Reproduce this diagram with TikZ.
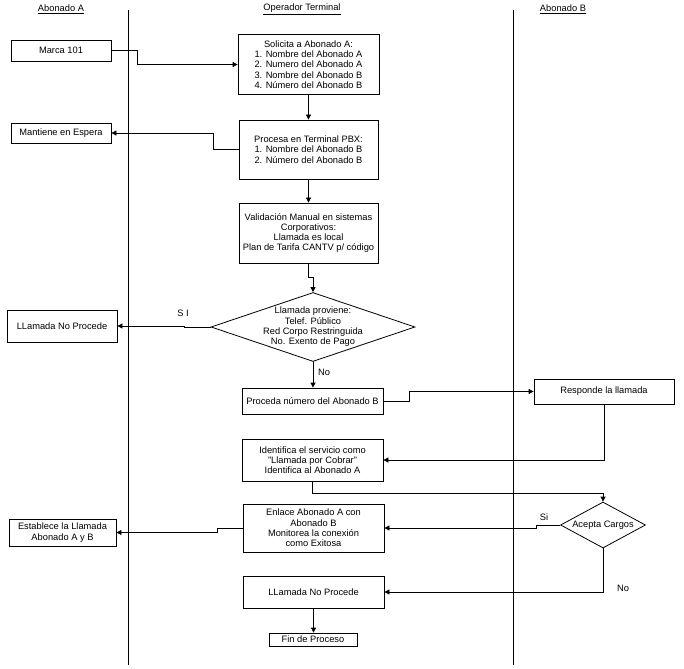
\documentclass[tikz,border=0pt]{standalone}
\usepackage{fontspec}
\setmainfont{Liberation Sans}
\usetikzlibrary{shapes.geometric,arrows.meta}
\begin{document}
\begin{tikzpicture}[x=1pt,y=-1pt,
  every node/.style={font=\fontsize{9.3}{10.3}\selectfont},
  box/.style={draw, line width=0.8pt, align=center, inner sep=0pt},
  dia/.style={draw, diamond, line width=0.8pt, inner sep=0pt},
  arr/.style={line width=0.8pt, -{Triangle[length=5pt,width=5pt]}},
  lane/.style={line width=0.8pt},
  lbl/.style={inner sep=0pt}]
\useasboundingbox (0,0) rectangle (684,668);
% lanes
\coordinate (l1t) at (128,10); \coordinate (l1b) at (128,665);
\coordinate (l2t) at (513,10); \coordinate (l2b) at (513,665);
\draw[lane] (l1t) -- (l1b);
\draw[lane] (l2t) -- (l2b);
% headers
\node[lbl] (hA) at (61,9) {\underline{Abonado A}};
\node[lbl] (hO) at (302,9) {\underline{Operador Terminal}};
\node[lbl] (hB) at (563,9) {\underline{Abonado B}};
% boxes
\node[box, minimum width=100pt, minimum height=21pt] (marca) at (61,50.5) {Marca 101};
\node[box, minimum width=141pt, minimum height=60pt] (sol) at (308.5,64.5) {Solicita a Abonado A:\\1. Nombre del Abonado A\\2. Numero del Abonado A\\3. Nombre del Abonado B\\4. Número del Abonado B};
\node[box, minimum width=100pt, minimum height=20pt] (mant) at (61,133) {Mantiene en Espera};
\node[box, minimum width=139pt, minimum height=59pt] (proc) at (308.5,149.5) {Procesa en Terminal PBX:\\1. Nombre del Abonado B\\2. Número del Abonado B};
\node[box, minimum width=139pt, minimum height=60pt] (val) at (308.5,233) {Validación Manual en sistemas\\Corporativos:\\Llamada es local\\Plan de Tarifa CANTV p/ código};
\node[dia, minimum width=204pt, minimum height=69pt] (d1) at (313,327) {};
\node[lbl, align=center] (d1t) at (313,327) {Llamada proviene:\\Telef. Público\\Red Corpo Restringuida\\No. Exento de Pago};
\node[box, minimum width=110pt, minimum height=32pt] (llnp1) at (62,326) {LLamada No Procede};
\node[box, minimum width=141pt, minimum height=26pt] (proceda) at (312.5,401) {Proceda número del Abonado B};
\node[box, minimum width=140pt, minimum height=25pt] (resp) at (604,391.5) {Responde la llamada};
\node[box, minimum width=141pt, minimum height=42pt] (ident) at (312.5,460) {Identifica el servicio como\\"Llamada por Cobrar"\\Identifica al Abonado A};
\node[dia, minimum width=85pt, minimum height=46pt] (acepta) at (603,525) {};
\node[lbl] (aceptat) at (603,525) {Acepta Cargos};
\node[box, minimum width=141pt, minimum height=48pt] (enlace) at (313.5,528) {Enlace Abonado A con\\Abonado B\\Monitorea la conexión\\como Exitosa};
\node[box, minimum width=107pt, minimum height=27pt] (estab) at (62.5,532.5) {Establece la Llamada\\Abonado A y B};
\node[box, minimum width=141pt, minimum height=32pt] (llnp2) at (313.5,592) {LLamada No Procede};
\node[box, minimum width=88pt, minimum height=13pt] (fin) at (313,639.5) {Fin de Proceso};
% labels
\node[lbl] (si1) at (183,313) {S I};
\node[lbl] (no1) at (324,372) {No};
\node[lbl] (si2) at (544,517) {Si};
\node[lbl] (no2) at (623,588) {No};
% connectors
\draw[arr] (marca.east) -- ++(26,0) |- (sol.west);
\draw[arr] (sol.south) -- (proc.north);
\draw[arr] (proc.west) -- ++(-25,0) |- (mant.east);
\draw[arr] (proc.south) -- (val.north);
\draw[arr] (val.south) -- ++(0,14) -| (d1.north);
\draw[arr] (d1.west) -- ++(-26,0) |- (llnp1.east);
\draw[arr] (d1.south) -- (proceda.north -| d1.south);
\draw[arr] (proceda.east) -- ++(26,0) |- (resp.west);
\draw[arr] (resp.south) |- (ident.east);
\draw[arr] (ident.south) -- ++(0,12) -| (acepta.north);
\draw[arr] (acepta.west) -- ++(-24,0) |- (enlace.east);
\draw[arr] (acepta.south) |- (llnp2.east);
\draw[arr] (enlace.west) -- ++(-25,0) |- (estab.east);
\draw[arr] (llnp2.south) -- (fin.north -| llnp2.south);
\end{tikzpicture}
\end{document}
